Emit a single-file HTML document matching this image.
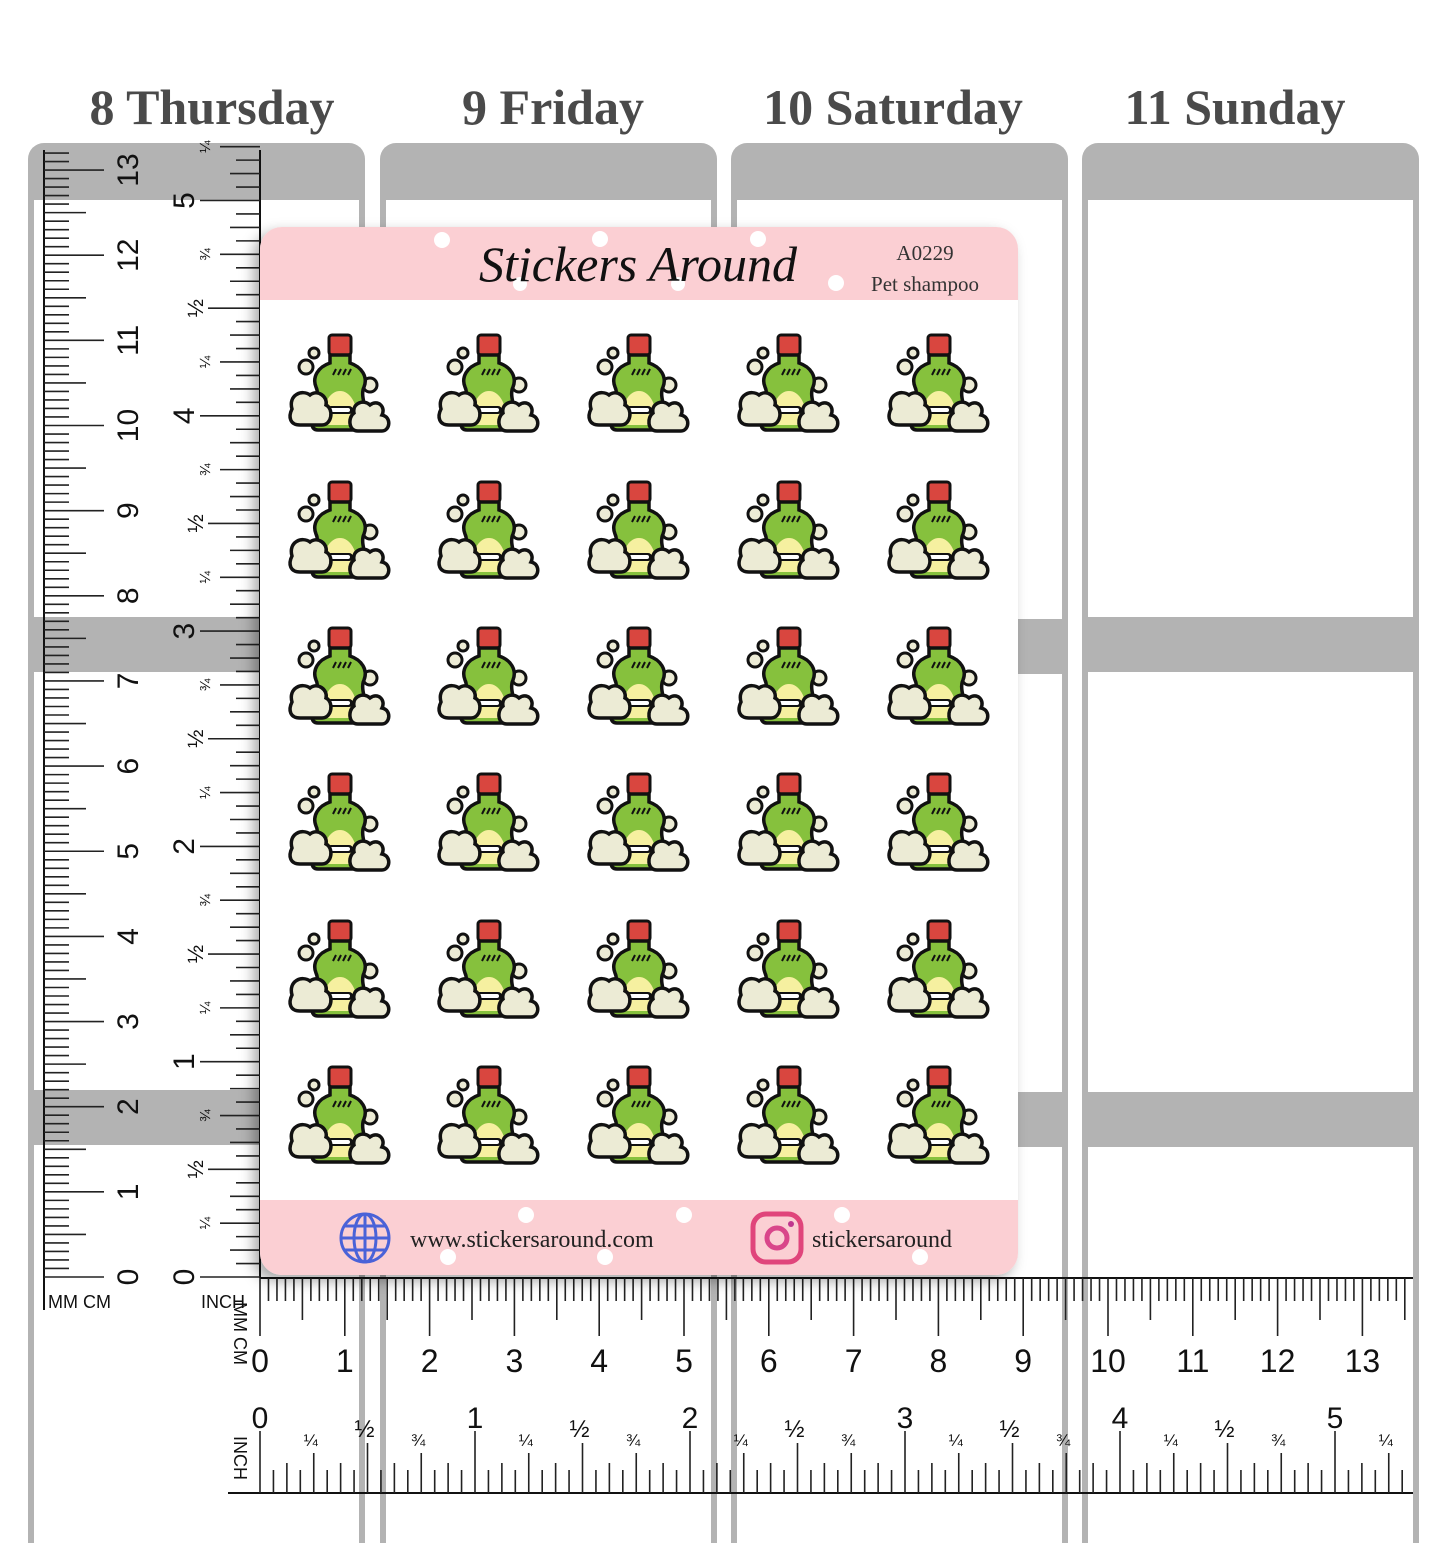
<!DOCTYPE html>
<html><head><meta charset="utf-8"><style>
html,body{margin:0;padding:0;background:#fff;}
body{width:1445px;height:1533px;position:relative;overflow:hidden;font-family:"Liberation Sans",sans-serif;}
.day{position:absolute;top:78px;font:bold 50px "Liberation Serif",serif;color:#4a4a4a;text-align:center;width:340px;}
.col{position:absolute;top:143px;width:337px;height:1400px;background:#b3b3b3;border-radius:16px 16px 0 0;}
.col .in{position:absolute;left:6px;right:6px;top:57px;bottom:0;background:#fff;}
.col .band{position:absolute;left:0;right:0;height:55px;background:#b3b3b3;}
.sheet{position:absolute;left:260px;top:227px;width:758px;height:1048px;background:#fff;border-radius:22px;box-shadow:-6px 6px 14px rgba(0,0,0,.35);overflow:hidden;}
.hdr{position:absolute;left:0;top:0;width:100%;height:73px;background:#fbcfd3;}
.ftr{position:absolute;left:0;bottom:0;width:100%;height:75px;background:#fbcfd3;}
svg{position:absolute;left:0;top:0;}
</style></head><body>
<div class="day" style="left:42px">8 Thursday</div>
<div class="day" style="left:383px">9 Friday</div>
<div class="day" style="left:723px">10 Saturday</div>
<div class="day" style="left:1065px">11 Sunday</div>

<div class="col" style="left:28px"><div class="in"></div><div class="band" style="top:474px"></div><div class="band" style="top:947px"></div></div>
<div class="col" style="left:380px"><div class="in"></div><div class="band" style="top:476px"></div><div class="band" style="top:949px"></div></div>
<div class="col" style="left:731px"><div class="in"></div><div class="band" style="top:476px"></div><div class="band" style="top:949px"></div></div>
<div class="col" style="left:1082px"><div class="in"></div><div class="band" style="top:474px"></div><div class="band" style="top:949px"></div></div>

<svg id="rul" width="1445" height="1533" viewBox="0 0 1445 1533"></svg>

<div class="sheet">
  <div class="hdr"></div>
  <div class="ftr"></div>
  <svg width="758" height="1048" viewBox="0 0 758 1048">
    <defs>
      <g id="ic">
        <circle cx="-26" cy="-30" r="5" fill="#ecebd5" stroke="#111" stroke-width="3"/>
        <circle cx="-34" cy="-16" r="7" fill="#ecebd5" stroke="#111" stroke-width="3"/>
        <circle cx="30" cy="2" r="7" fill="#ecebd5" stroke="#111" stroke-width="3"/>
        <rect x="-11" y="-48" width="22" height="20" rx="3" fill="#d9463f" stroke="#111" stroke-width="3"/>
        <path d="M-10,-28 H10 V-20 C22,-16 28,-6 24,4 C20,12 26,24 28,40 Q28,47 22,47 H-22 Q-28,47 -28,40 C-26,24 -20,12 -24,4 C-28,-6 -22,-16 -10,-20 Z" fill="#86c13d" stroke="#111" stroke-width="3.5"/>
        <path d="M-18,42 C-18,20 -10,8 0,8 C10,8 18,20 18,42 Z" fill="#f6f0a0"/>
        <path d="M-7,-8 l3,-6 M-2,-8 l3,-6 M3,-8 l3,-6 M8,-8 l3,-6" stroke="#111" stroke-width="2"/>
        <path d="M-9,27 H9" stroke="#111" stroke-width="8" stroke-linecap="round"/><path d="M-8,27 H8" stroke="#fff" stroke-width="4" stroke-linecap="round"/>
        <path d="M-48,26 C-52,12 -38,6 -30,12 C-22,6 -12,14 -14,22 C-6,26 -8,42 -18,42 H-40 C-50,42 -52,34 -48,26 Z" fill="#ecebd5" stroke="#111" stroke-width="3.5"/>
        <path d="M14,30 C12,20 24,16 30,22 C38,16 46,24 42,32 C52,34 50,48 42,48 H18 C8,48 8,34 14,30 Z" fill="#ecebd5" stroke="#111" stroke-width="3.5"/>
      </g>
    </defs>
    <g id="grid"></g>
    <circle cx="182" cy="13" r="8" fill="#fff"/><circle cx="340" cy="12" r="8" fill="#fff"/><circle cx="498" cy="12" r="8" fill="#fff"/><circle cx="576" cy="56" r="8" fill="#fff"/><circle cx="260" cy="57" r="7" fill="#fff"/><circle cx="418" cy="57" r="7" fill="#fff"/>
    <text x="378" y="54" text-anchor="middle" font-family="Liberation Serif,serif" font-style="italic" font-size="50" fill="#111">Stickers Around</text>
    <text x="665" y="33" text-anchor="middle" font-family="Liberation Serif,serif" font-size="21" fill="#333">A0229</text>
    <text x="665" y="64" text-anchor="middle" font-family="Liberation Serif,serif" font-size="21" fill="#333">Pet shampoo</text>
    <circle cx="266" cy="988" r="8" fill="#fff"/><circle cx="424" cy="988" r="8" fill="#fff"/><circle cx="582" cy="988" r="8" fill="#fff"/><circle cx="188" cy="1030" r="8" fill="#fff"/><circle cx="345" cy="1030" r="8" fill="#fff"/><circle cx="660" cy="1030" r="8" fill="#fff"/>
    <g transform="translate(105,1011)" fill="none" stroke="#4a62d8" stroke-width="3">
      <circle r="24"/><ellipse rx="11" ry="24"/><line x1="-24" y1="0" x2="24" y2="0"/><line x1="0" y1="-24" x2="0" y2="24"/><path d="M-20,-12 H20 M-20,12 H20"/>
    </g>
    <text x="150" y="1020" font-family="Liberation Serif,serif" font-size="24" fill="#222">www.stickersaround.com</text>
    <rect x="493" y="987" width="48" height="48" rx="13" fill="none" stroke="#e0457b" stroke-width="5"/>
    <circle cx="517" cy="1011" r="10" fill="none" stroke="#d9468a" stroke-width="5"/><circle cx="531" cy="997" r="3" fill="#c0368e"/>
    <text x="552" y="1020" font-family="Liberation Serif,serif" font-size="24" fill="#222">stickersaround</text>
  </svg>
</div>

<script>
var s='';
var cm=85.15, mm=cm/10, y0=1277;
s+='<line x1="44" y1="150" x2="44" y2="1310" stroke="#111" stroke-width="2"/>';
s+='<line x1="260" y1="150" x2="260" y2="1278" stroke="#111" stroke-width="2"/>';
for(var i=0;i<=132;i++){var y=y0-i*mm;var l=i%10==0?60:(i%5==0?42:25);s+='<line x1="44" y1="'+y+'" x2="'+(44+l)+'" y2="'+y+'" stroke="#222" stroke-width="1.6"/>';}
for(var n=0;n<=13;n++){var y=y0-n*cm;s+='<text transform="translate(138,'+y+') rotate(-90)" text-anchor="middle" font-size="30" fill="#111">'+n+'</text>';}
var inch=215.3, st=inch/16;
var fr={4:'¼',8:'½',12:'¾'};
for(var j=0;j<=84;j++){var y=y0-j*st;var l=j%16==0?60:(j%8==0?52:(j%4==0?40:(j%2==0?30:24)));s+='<line x1="'+(260-l)+'" y1="'+y+'" x2="260" y2="'+y+'" stroke="#222" stroke-width="1.6"/>';
 if(j%16==0&&j<=80)s+='<text transform="translate(194,'+y+') rotate(-90)" text-anchor="middle" font-size="30" fill="#111">'+(j/16)+'</text>';
 else if(fr[j%16])s+='<text transform="translate('+(j%16==8?203:210)+','+y+') rotate(-90)" text-anchor="middle" font-size="'+(j%16==8?22:15)+'" fill="#111">'+fr[j%16]+'</text>';}
s+='<text x="48" y="1308" font-size="18" fill="#111">MM CM</text><text x="201" y="1308" font-size="18" fill="#111">INCH</text>';
var x0=260, hcm=84.8, hmm=hcm/10;
s+='<line x1="260" y1="1278" x2="1413" y2="1278" stroke="#111" stroke-width="2"/>';
s+='<line x1="228" y1="1493" x2="1413" y2="1493" stroke="#111" stroke-width="2"/>';
for(var i=0;x0+i*hmm<=1413;i++){var x=x0+i*hmm;var l=i%10==0?58:(i%5==0?42:23);s+='<line x1="'+x+'" y1="1278" x2="'+x+'" y2="'+(1278+l)+'" stroke="#222" stroke-width="1.6"/>';}
for(var n=0;n<=13;n++){var x=x0+n*hcm;s+='<text x="'+x+'" y="1372" text-anchor="middle" font-size="32" fill="#111">'+n+'</text>';}
var hin=215, hst=hin/16;
for(var j=0;x0+j*hst<=1413;j++){var x=x0+j*hst;var l=j%16==0?62:(j%8==0?50:(j%4==0?40:(j%2==0?30:23)));s+='<line x1="'+x+'" y1="'+(1493-l)+'" x2="'+x+'" y2="1493" stroke="#222" stroke-width="1.6"/>';
 if(j%16==0)s+='<text x="'+x+'" y="1428" text-anchor="middle" font-size="30" fill="#111">'+(j/16)+'</text>';
 else if(fr[j%16])s+='<text x="'+(x-3)+'" y="'+(j%16==8?1437:1446)+'" text-anchor="middle" font-size="'+(j%16==8?24:17)+'" fill="#111">'+fr[j%16]+'</text>';}
s+='<text transform="translate(234,1302) rotate(90)" font-size="18" fill="#111">MM CM</text>';
s+='<text transform="translate(234,1436) rotate(90)" font-size="18" fill="#111">INCH</text>';
document.getElementById('rul').innerHTML=s;
var g='';var xs=[80,229,379,529,679],ys=[156,303,449,595,742,888];
for(var r=0;r<6;r++)for(var c=0;c<5;c++)g+='<use href="#ic" transform="translate('+xs[c]+','+ys[r]+')"/>';
document.getElementById('grid').innerHTML=g;
</script>
</body></html>
